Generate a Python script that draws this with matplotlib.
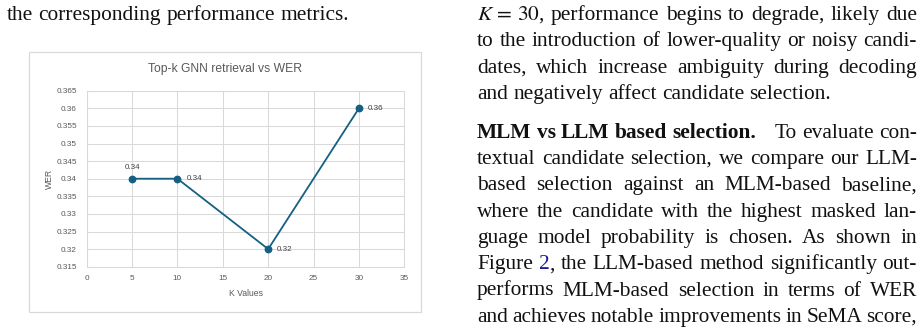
import matplotlib
matplotlib.use('Agg')
import matplotlib.pyplot as plt
from matplotlib.patches import Rectangle
from matplotlib.ticker import FixedLocator, FuncFormatter
from matplotlib.transforms import IdentityTransform

# chart data
k_values = [5, 10, 20, 30]
wer = [0.34, 0.34, 0.32, 0.36]
x_ticks = [0, 5, 10, 15, 20, 25, 30, 35]
y_ticks = [0.315, 0.32, 0.325, 0.33, 0.335, 0.34, 0.345, 0.35, 0.355, 0.36, 0.365]
chart_title = 'Top-k GNN retrieval vs WER'
x_label = 'K Values'
y_label = 'WER'

# paper text around the figure (*word = bold, [x] = link colour, QUAD = wide gap)
left_lines = ['the corresponding performance metrics.']
right_para1 = [
    r'$K\,=\,30$, performance begins to degrade, likely due',
    'to the introduction of lower-quality or noisy candi-',
    'dates, which increase ambiguity during decoding',
    'and negatively affect candidate selection.',
]
right_para2 = [
    '*MLM *vs *LLM *based *selection. QUAD To evaluate con-',
    'textual candidate selection, we compare our LLM-',
    'based selection against an MLM-based baseline,',
    'where the candidate with the highest masked lan-',
    'guage model probability is chosen. As shown in',
    'Figure [2], the LLM-based method significantly out-',
    'performs MLM-based selection in terms of WER',
    'and achieves notable improvements in SeMA score,',
]

W, H = 923, 336
plt.rcParams['font.family'] = ['Liberation Sans', 'DejaVu Sans']
plt.rcParams['mathtext.fontset'] = 'stix'

fig = plt.figure(figsize=(W / 100, H / 100), dpi=100)

def fx(px):
    return px / W

def fy(py):
    return 1 - py / H

# chart card border
fig.add_artist(Rectangle((fx(28.5), fy(311.5)), fx(420.5) - fx(28.5), fy(52) - fy(311.5),
                         transform=fig.transFigure, fill=False, edgecolor='#d9d9d9', lw=0.9))

ax = fig.add_axes([fx(86.7), fy(266.7), fx(404.3) - fx(86.7), fy(90.7) - fy(266.7)])
ax.plot(k_values, wer, color='#156082', lw=1.3, marker='o', ms=4.6, zorder=3)
ax.set_xlim(x_ticks[0], x_ticks[-1])
ax.set_ylim(y_ticks[0], y_ticks[-1])
ax.xaxis.set_major_locator(FixedLocator(x_ticks))
ax.yaxis.set_major_locator(FixedLocator(y_ticks))
ax.yaxis.set_major_formatter(FuncFormatter(lambda v, p: f'{v:g}'))
ax.grid(color='#d9d9d9', lw=0.75)
ax.set_axisbelow(True)
for s in ax.spines.values():
    s.set_color('#d9d9d9')
    s.set_linewidth(0.75)
ax.tick_params(length=0, labelsize=5.9, labelcolor='#595959')
ax.tick_params(axis='y', pad=7)
ax.tick_params(axis='x', pad=6)

# data labels: first one above the point, others to the right
for i, (k, v) in enumerate(zip(k_values, wer)):
    if i == 0:
        ax.annotate(f'{v:.2f}', (k, v), xytext=(0, 8), textcoords='offset points',
                    ha='center', va='center', fontsize=5.8, color='#404040')
    else:
        ax.annotate(f'{v:.2f}', (k, v), xytext=(6.5, 0), textcoords='offset points',
                    ha='left', va='center', fontsize=5.8, color='#404040')

fig.text(fx(224.7), fy(69), chart_title, ha='center', va='center', fontsize=8.7, color='#595959')
fig.text(fx(245.5), fy(293), x_label, ha='center', va='center', fontsize=6.2, color='#595959')
fig.text(fx(49), fy(178.7), y_label, ha='center', va='center', rotation=90, fontsize=6.2, color='#595959')

# body text, justified like the paper columns
BODY = 15.4
INK = '#111111'
LINK = '#1a1a99'
renderer = fig.canvas.get_renderer()

def parse(tok):
    if tok.startswith('*'):
        return [(tok[1:], 'bold', INK)]
    if '[' in tok:
        a, rest = tok.split('[')
        b, c = rest.split(']')
        return [(p, 'normal', col) for p, col in ((a, INK), (b, LINK), (c, INK)) if p]
    return [(tok, 'normal', INK)]

def ink_width(s, weight):
    t = fig.text(0, 0, s, transform=IdentityTransform(), family='Liberation Serif',
                 fontsize=BODY, fontweight=weight)
    w = t.get_window_extent(renderer).width
    t.remove()
    return w

def width_of(s, weight):
    # advance width: pad with bars so side bearings are counted
    if s.startswith('$'):
        return ink_width(s, weight)
    return ink_width('|' + s + '|', weight) - ink_width('||', weight)

def put_line(line, x0, x1, base, justify=True):
    em = BODY * 100 / 72
    words = []
    quad = False
    for tok in line.split(' '):
        if tok == 'QUAD':
            quad = True
            continue
        pieces = [(s, w, c, width_of(s, w)) for s, w, c in parse(tok)]
        words.append((pieces, quad))
        quad = False
    total = sum(p[3] for pieces, _ in words for p in pieces)
    extra = sum(0.6 * em for _, q in words if q)
    gap = (x1 - x0 - total - extra) / (len(words) - 1) if justify else 0.25 * em
    x = x0
    for i, (pieces, q) in enumerate(words):
        if i:
            x += gap + (0.6 * em if q else 0)
        for s, w, c, wd in pieces:
            fig.text(x, H - base, s, transform=IdentityTransform(), family='Liberation Serif',
                     fontsize=BODY, fontweight=w, color=c, va='baseline')
            x += wd

for line in left_lines:
    put_line(line, 7, 400, 20, justify=False)

step = 26.3
for i, line in enumerate(right_para1):
    put_line(line, 477, 917, 20 + i * step, justify=(i < len(right_para1) - 1))
for i, line in enumerate(right_para2):
    put_line(line, 477, 917, 137.7 + i * step)

fig.savefig('out.png', dpi=100)
